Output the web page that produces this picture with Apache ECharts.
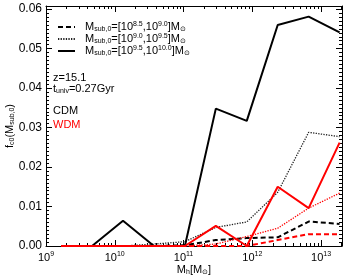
<!DOCTYPE html>
<html><head><meta charset="utf-8">
<script src="https://cdn.jsdelivr.net/npm/echarts@6/dist/echarts.min.js"></script>
<style>html,body{margin:0;padding:0;background:#fff}#c{width:350px;height:280px}</style>
</head><body><div id="c"></div><script>
// ---- data (log10 of halo mass bin centres, and fractions) ----
const logMassBins = [9.22, 9.67, 10.12, 10.57, 11.02, 11.47, 11.92, 12.37, 12.82, 13.27];
const cdmLow  = [0, 0, 0, 0, 0.0002, 0.0015, 0.0020, 0.0022, 0.0062, 0.0056];
const cdmMid  = [0, 0, 0, 0.0005, 0.0011, 0.0047, 0.0061, 0.0136, 0.0288, 0.0277];
const cdmHigh = [0, 0, 0.0064, 0, 0, 0.0348, 0.0317, 0.0560, 0.0581, 0.0541];
const wdmLow  = [0, 0, 0, 0, 0, 0, 0, 0.0015, 0.0030, 0.0030];
const wdmMid  = [0, 0, 0, 0, 0, 0.0005, 0.0024, 0.0045, 0.0096, 0.0134];
const wdmHigh = [0, 0, 0, 0, 0, 0.0051, 0, 0.0150, 0.0096, 0.0262];
const xMajorTicks = [1e9, 1e10, 1e11, 1e12, 1e13];
const yMajorTicks = [0, 0.01, 0.02, 0.03, 0.04, 0.05, 0.06];
const legendLabels = [
  ['8.5', '9.0'],
  ['9.0', '9.5'],
  ['9.5', '10.0']
];

const FONT = "'Liberation Sans', Arial, Helvetica, sans-serif";
const X_MIN = 1e9, X_MAX = Math.pow(10, 13.305);
const Y_MIN = 0, Y_MAX = 0.0608;

const xMinorTicks = [];
for (let n = 9; n <= 13; n++) for (let k = 2; k <= 9; k++) { const v = k * Math.pow(10, n); if (v < X_MAX) xMinorTicks.push(v); }
const yMinorTicks = [];
for (let i = 0; i <= 60; i++) yMinorTicks.push(+(i * 0.001).toFixed(3));

function pairs(vals) { return logMassBins.map((b, i) => [Math.pow(10, b), vals[i]]); }

const rich = {
  b: { fontSize: 11, fontFamily: FONT, color: '#000', lineHeight: 12 },
  sup: { fontSize: 7, fontFamily: FONT, color: '#000', lineHeight: 6, verticalAlign: 'top' },
  sub: { fontSize: 7, fontFamily: FONT, color: '#000', lineHeight: 6, verticalAlign: 'bottom' }
};

function xAxisDef(pos, major) {
  return {
    type: 'log', logBase: 10, min: X_MIN, max: X_MAX, gridIndex: 0, position: pos, z: 0,
    axisLine: { show: major, onZero: false, lineStyle: { color: '#000', width: 1 } },
    axisTick: { show: true, inside: true, length: major ? 6 : 3, customValues: major ? xMajorTicks : xMinorTicks, lineStyle: { color: '#000', width: 1 } },
    minorTick: { show: false },
    splitLine: { show: false },
    axisLabel: (pos === 'bottom' && major) ? {
      show: true, customValues: xMajorTicks, margin: 5,
      formatter: v => '{b|10}{sup|' + Math.round(Math.log10(v)) + '}',
      rich: {
        b: { fontSize: 11, fontFamily: FONT, color: '#000', lineHeight: 14 },
        sup: { fontSize: 7, fontFamily: FONT, color: '#000', lineHeight: 8, verticalAlign: 'top' }
      }
    } : { show: false }
  };
}
function yAxisDef(pos, major) {
  return {
    type: 'value', min: Y_MIN, max: Y_MAX, gridIndex: 0, position: pos, z: 0,
    axisLine: { show: major, onZero: false, lineStyle: { color: '#000', width: 1 } },
    axisTick: { show: true, inside: true, length: major ? 6 : 3, customValues: major ? yMajorTicks : yMinorTicks, lineStyle: { color: '#000', width: 1 } },
    splitLine: { show: false },
    axisLabel: (pos === 'left' && major) ? {
      show: true, customValues: yMajorTicks, margin: 4,
      formatter: v => v.toFixed(2), fontSize: 12, fontFamily: FONT, color: '#000'
    } : { show: false }
  };
}

function lineSeries(name, vals, color, width, dash, z) {
  return {
    name: name, type: 'line', xAxisIndex: 0, yAxisIndex: 0, data: pairs(vals),
    symbol: 'none', showSymbol: false, silent: true, clip: false, zlevel: 1, z: z,
    lineStyle: { color: color, width: width, type: dash },
    itemStyle: { color: color }
  };
}

const chart = echarts.init(document.getElementById('c'), null, { renderer: 'canvas' });
chart.setOption({
  animation: false,
  backgroundColor: '#fff',
  grid: { left: 46, right: 8, top: 6, bottom: 34, containLabel: false },
  xAxis: [xAxisDef('bottom', true), xAxisDef('bottom', false), xAxisDef('top', true), xAxisDef('top', false)],
  yAxis: [yAxisDef('left', true), yAxisDef('left', false), yAxisDef('right', true), yAxisDef('right', false)],
  legend: {
    show: true, orient: 'vertical', left: 52, top: 16, itemWidth: 17, itemHeight: 12, itemGap: 0,
    data: ['cdmLow', 'cdmMid', 'cdmHigh'],
    itemStyle: { opacity: 0, borderWidth: 0 },
    formatter: name => {
      const i = ['cdmLow', 'cdmMid', 'cdmHigh'].indexOf(name);
      const l = legendLabels[i];
      return '{b|M}{sub|sub,0}{b|=[10}{sup|' + l[0] + '}{b|,10}{sup|' + l[1] + '}{b|]M}{sub|\u2299}';
    },
    textStyle: { rich: rich, padding: [0, 0, 0, 5] },
    selectedMode: false
  },
  series: [
    lineSeries('cdmLow', cdmLow, '#000', 2, [5, 3], 2),
    lineSeries('cdmMid', cdmMid, '#222', 1.3, [1.3, 1.3], 2),
    lineSeries('cdmHigh', cdmHigh, '#000', 2, 'solid', 2),
    lineSeries('wdmLow', wdmLow, '#ff0000', 2, [5, 3], 3),
    lineSeries('wdmMid', wdmMid, '#ff0000', 1.3, [1.3, 1.3], 3),
    lineSeries('wdmHigh', wdmHigh, '#ff0000', 2, 'solid', 4)
  ],
  graphic: [
    { type: 'text', left: 53, top: 72, style: { text: 'z=15.1', font: '11px ' + FONT, fill: '#000' } },
    { type: 'text', left: 53, top: 83, style: { text: '{b|t}{sub|univ}{b|=0.27Gyr}', rich: rich } },
    { type: 'text', left: 53, top: 105, style: { text: 'CDM', font: '11px ' + FONT, fill: '#000' } },
    { type: 'text', left: 53, top: 119, style: { text: 'WDM', font: '11px ' + FONT, fill: '#ff0000' } },
    { type: 'text', x: 194, y: 270, style: { text: '{b|M}{sub|h}{b|[M}{sub|\u2299}{b|]}', rich: rich, align: 'center', verticalAlign: 'middle' } },
    { type: 'text', x: 10, y: 126, rotation: Math.PI / 2, style: { text: '{b|f}{sub|c0}{b|(M}{sub|sub,0}{b|)}', rich: rich, align: 'center', verticalAlign: 'middle' } }
  ]
});
</script></body></html>
